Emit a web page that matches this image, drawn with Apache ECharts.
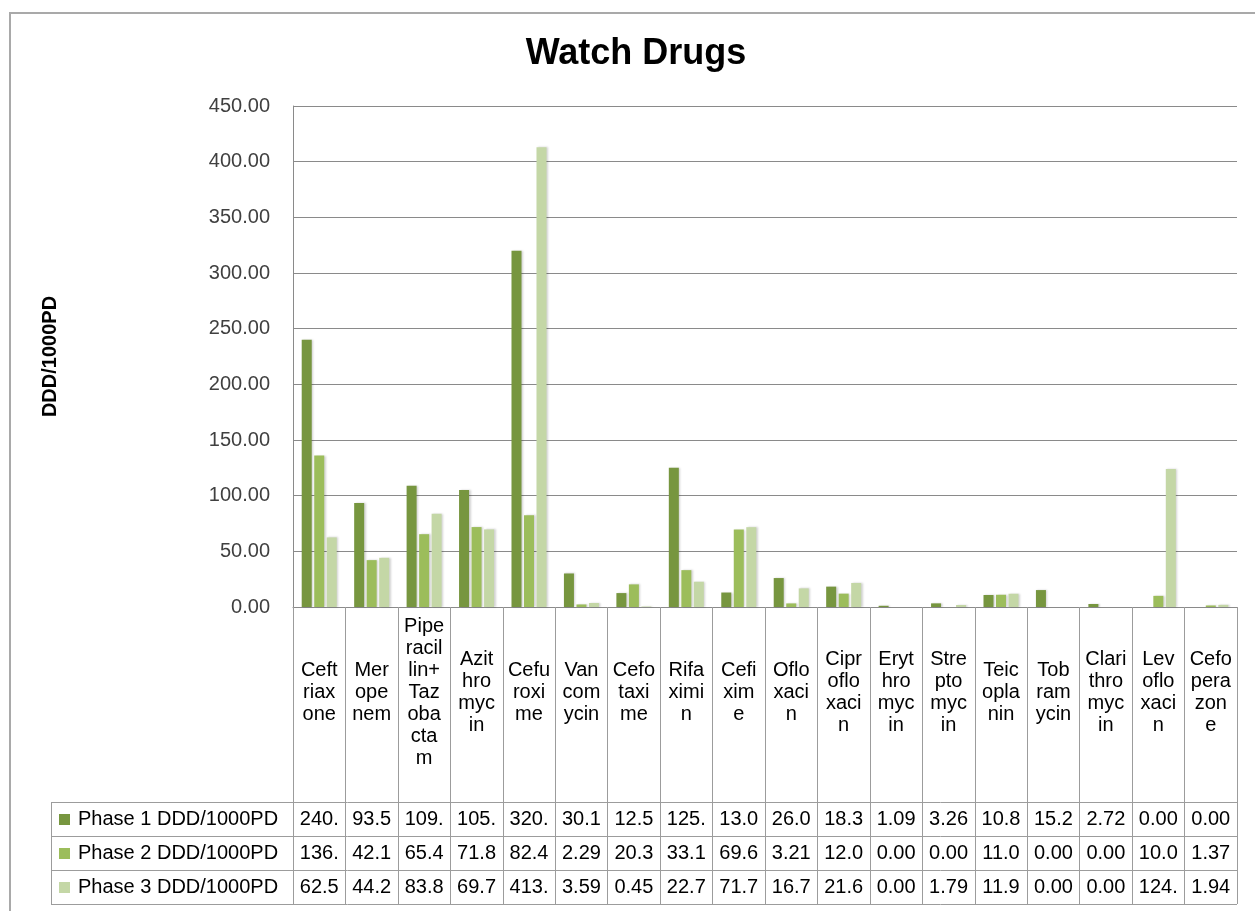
<!DOCTYPE html>
<html>
<head>
<meta charset="utf-8">
<title>Watch Drugs</title>
<script src="https://cdn.jsdelivr.net/npm/echarts@6/dist/echarts.min.js"></script>
<style>
  html, body { margin: 0; padding: 0; background: #ffffff; }
  #chart { width: 1255px; height: 911px; }
</style>
</head>
<body>
<div id="chart"></div>
<script>
// ---- data ----
const categories = [
  'Ceftriaxone', 'Meropenem', 'Piperacillin+Tazobactam', 'Azithromycin', 'Cefuroxime',
  'Vancomycin', 'Cefotaxime', 'Rifaximin', 'Cefixime', 'Ofloxacin', 'Ciprofloxacin',
  'Erythromycin', 'Streptomycin', 'Teicoplanin', 'Tobramycin', 'Clarithromycin',
  'Levofloxacin', 'Cefoperazone'
];
// names as they wrap inside the narrow table cells
const categoryCellLines = [
  ['Ceft', 'riax', 'one'], ['Mer', 'ope', 'nem'],
  ['Pipe', 'racil', 'lin+', 'Taz', 'oba', 'cta', 'm'], ['Azit', 'hro', 'myc', 'in'],
  ['Cefu', 'roxi', 'me'], ['Van', 'com', 'ycin'], ['Cefo', 'taxi', 'me'],
  ['Rifa', 'ximi', 'n'], ['Cefi', 'xim', 'e'], ['Oflo', 'xaci', 'n'],
  ['Cipr', 'oflo', 'xaci', 'n'], ['Eryt', 'hro', 'myc', 'in'], ['Stre', 'pto', 'myc', 'in'],
  ['Teic', 'opla', 'nin'], ['Tob', 'ram', 'ycin'], ['Clari', 'thro', 'myc', 'in'],
  ['Lev', 'oflo', 'xaci', 'n'], ['Cefo', 'pera', 'zon', 'e']
];
const seriesNames = ['Phase 1 DDD/1000PD', 'Phase 2 DDD/1000PD', 'Phase 3 DDD/1000PD'];
const phase1 = [240, 93.5, 109, 105, 320, 30.1, 12.5, 125, 13.0, 26.0, 18.3, 1.09, 3.26, 10.8, 15.2, 2.72, 0.00, 0.00];
const phase2 = [136, 42.1, 65.4, 71.8, 82.4, 2.29, 20.3, 33.1, 69.6, 3.21, 12.0, 0.00, 0.00, 11.0, 0.00, 0.00, 10.0, 1.37];
const phase3 = [62.5, 44.2, 83.8, 69.7, 413, 3.59, 0.45, 22.7, 71.7, 16.7, 21.6, 0.00, 1.79, 11.9, 0.00, 0.00, 124, 1.94];
const yMin = 0, yMax = 450, yStep = 50;

// ---- styling / layout ----
const phaseData = [phase1, phase2, phase3];
const phaseColors = ['#77963f', '#9cbd5b', '#c4d7a6'];
const FONT = '"Liberation Sans", Arial, sans-serif';
const W = 1255, H = 911;
const GRID = { left: 293, right: 18, top: 106, bottom: 304 };
const zeroY = H - GRID.bottom;
const nameRowH = 195;   // height of the row holding drug names
const rowH = 34;        // height of each value row
const tableLeft = 51;
const gridColor = '#8a8a8a';
const tableColor = '#9c9c9c';

// cell text: two decimals, clipped to the 4 characters that fit in a cell
const cellText = v => v.toFixed(2).slice(0, 4);

const chart = echarts.init(document.getElementById('chart'), null, { renderer: 'canvas' });

const valueAxes = phaseData.map((arr, i) => ({
  type: 'category',
  gridIndex: 0,
  position: 'bottom',
  data: categories,
  axisLine: { show: false },
  axisTick: { show: false },
  splitLine: { show: false },
  axisLabel: {
    interval: 0,
    margin: nameRowH + rowH * (i + 0.5),
    verticalAlign: 'middle',
    fontFamily: FONT,
    fontSize: 20,
    color: '#000000',
    formatter: (v, idx) => cellText(arr[idx])
  }
}));

const tableRight = W - GRID.right;
const graphics = [
  {
    type: 'rect', silent: true, z: -10,
    shape: { x: 10, y: 13, width: 1300, height: 1000 },
    style: { fill: null, stroke: '#a9a9a9', lineWidth: 2 }
  },
  {
    type: 'text', silent: true,
    x: 636, y: 54,
    style: {
      text: 'Watch Drugs', fill: '#000000', font: 'bold 36px ' + FONT,
      textAlign: 'center', textVerticalAlign: 'middle'
    }
  }
];
for (let i = 0; i <= 3; i++) {
  const y = Math.round(zeroY + nameRowH + rowH * i) + 0.5;
  graphics.push({
    type: 'line', silent: true,
    shape: { x1: tableLeft, y1: y, x2: tableRight, y2: y },
    style: { stroke: tableColor, lineWidth: 1 }
  });
}
graphics.push({
  type: 'line', silent: true,
  shape: { x1: tableLeft + 0.5, y1: zeroY + nameRowH, x2: tableLeft + 0.5, y2: zeroY + nameRowH + rowH * 3 },
  style: { stroke: tableColor, lineWidth: 1 }
});
seriesNames.forEach((name, i) => {
  const cy = zeroY + nameRowH + rowH * (i + 0.5);
  graphics.push({
    type: 'rect', silent: true,
    shape: { x: 59, y: Math.round(cy - 5.5), width: 11, height: 11 },
    style: { fill: phaseColors[i] }
  });
  graphics.push({
    type: 'text', silent: true,
    x: 78, y: cy,
    style: {
      text: name, fill: '#000000', font: '20px ' + FONT,
      textAlign: 'left', textVerticalAlign: 'middle'
    }
  });
});

chart.setOption({
  backgroundColor: '#ffffff',
  animation: false,
  grid: {
    left: GRID.left, right: GRID.right, top: GRID.top, bottom: GRID.bottom,
    containLabel: false, outerBoundsMode: 'none'
  },
  xAxis: [
    {
      type: 'category',
      gridIndex: 0,
      position: 'bottom',
      data: categories,
      boundaryGap: true,
      axisLine: { show: true, lineStyle: { color: gridColor, width: 1 } },
      axisTick: {
        show: true, interval: 0, inside: false, alignWithLabel: false,
        length: nameRowH + rowH * 3,
        lineStyle: { color: tableColor, width: 1 }
      },
      splitLine: { show: false },
      axisLabel: {
        interval: 0,
        margin: 85,
        verticalAlign: 'middle',
        align: 'center',
        fontFamily: FONT,
        fontSize: 20,
        lineHeight: 22,
        color: '#000000',
        formatter: (v, idx) => categoryCellLines[idx].join('\n')
      }
    },
    ...valueAxes
  ],
  yAxis: {
    type: 'value',
    min: yMin, max: yMax, interval: yStep,
    name: 'DDD/1000PD',
    nameLocation: 'middle',
    nameGap: 233,
    nameRotate: 90,
    nameTextStyle: { fontFamily: FONT, fontSize: 20, fontWeight: 'bold', color: '#000000' },
    axisLine: { show: true, lineStyle: { color: gridColor, width: 1 } },
    axisTick: { show: false },
    splitLine: { show: true, lineStyle: { color: gridColor, width: 1 } },
    axisLabel: {
      margin: 23,
      fontFamily: FONT,
      fontSize: 20,
      color: '#404040',
      formatter: v => v.toFixed(2)
    }
  },
  series: phaseData.map((arr, i) => ({
    name: seriesNames[i],
    type: 'bar',
    xAxisIndex: 0,
    data: arr,
    barWidth: 10,
    barGap: '25%',
    itemStyle: {
      color: phaseColors[i],
      shadowColor: 'rgba(0,0,0,0.18)',
      shadowBlur: 2,
      shadowOffsetX: 1.5,
      shadowOffsetY: 0
    },
    z: 3
  })),
  graphic: graphics
});
</script>
</body>
</html>
